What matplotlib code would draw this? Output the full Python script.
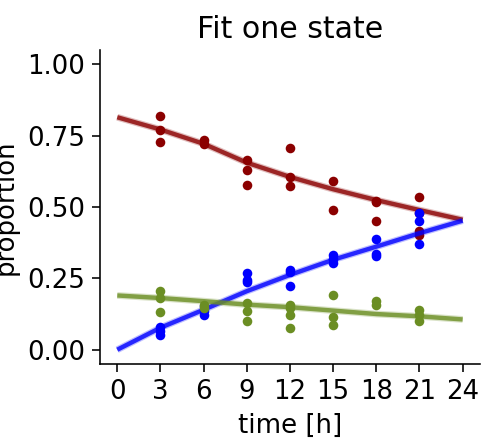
import matplotlib
matplotlib.use('Agg')
import matplotlib.pyplot as plt
import numpy as np

# Observed proportions per time point (3 replicates-ish)
t_obs = [3, 6, 9, 12, 15, 18, 21]
red_obs = [[0.818, 0.768, 0.726], [0.733, 0.721], [0.664, 0.628, 0.578],
           [0.706, 0.604, 0.575], [0.590, 0.489], [0.520, 0.516, 0.451],
           [0.535, 0.478, 0.417, 0.402]]
blue_obs = [[0.079, 0.067, 0.053], [0.152, 0.135, 0.120], [0.268, 0.245, 0.237],
            [0.280, 0.272, 0.222], [0.332, 0.318, 0.303], [0.386, 0.334, 0.328],
            [0.478, 0.452, 0.370]]
green_obs = [[0.204, 0.181, 0.132], [0.155, 0.145], [0.164, 0.135, 0.102],
             [0.158, 0.146, 0.123, 0.077], [0.190, 0.114, 0.086], [0.172, 0.156],
             [0.140, 0.123, 0.100]]

# Fitted curves
t_fit = [0, 3, 6, 9, 12, 15, 18, 21, 24]
red_fit = [0.814, 0.771, 0.721, 0.655, 0.605, 0.562, 0.524, 0.489, 0.455]
blue_fit = [0.0, 0.077, 0.140, 0.205, 0.262, 0.315, 0.361, 0.408, 0.452]
green_fit = [0.190, 0.181, 0.170, 0.158, 0.149, 0.137, 0.125, 0.117, 0.106]

colors = ['#8b0000', '#0000ff', '#6b8e23']

fig = plt.figure(figsize=(484/144, 445/144), dpi=144)
ax = fig.add_axes([0.2066, 0.182, 0.785, 0.706])

for obs, fit, c in zip([red_obs, blue_obs, green_obs],
                       [red_fit, blue_fit, green_fit], colors):
    # blurred fit line
    ax.plot(t_fit, fit, color=c, lw=3.4, alpha=0.25, solid_capstyle='butt')
    ax.plot(t_fit, fit, color=c, lw=2.2, alpha=0.8, solid_capstyle='butt')
    for t, vals in zip(t_obs, obs):
        ax.plot([t] * len(vals), vals, 'o', color=c, ms=4.8, mec='none')

ax.set_xticks(range(0, 25, 3))
ax.set_yticks([0, 0.25, 0.5, 0.75, 1.0])
ax.yaxis.set_major_formatter(matplotlib.ticker.FormatStrFormatter('%.2f'))
ax.set_xlim(-1.2, 25.2)
ax.set_ylim(-0.05, 1.05)
ax.tick_params(labelsize=13, length=4)
for s in ['top', 'right']:
    ax.spines[s].set_visible(False)

ax.set_xlabel('time [h]', fontsize=13)
ax.set_ylabel('proportion', fontsize=13)
ax.set_title('Fit one state', fontsize=15)

fig.savefig('out.png', dpi=144)
